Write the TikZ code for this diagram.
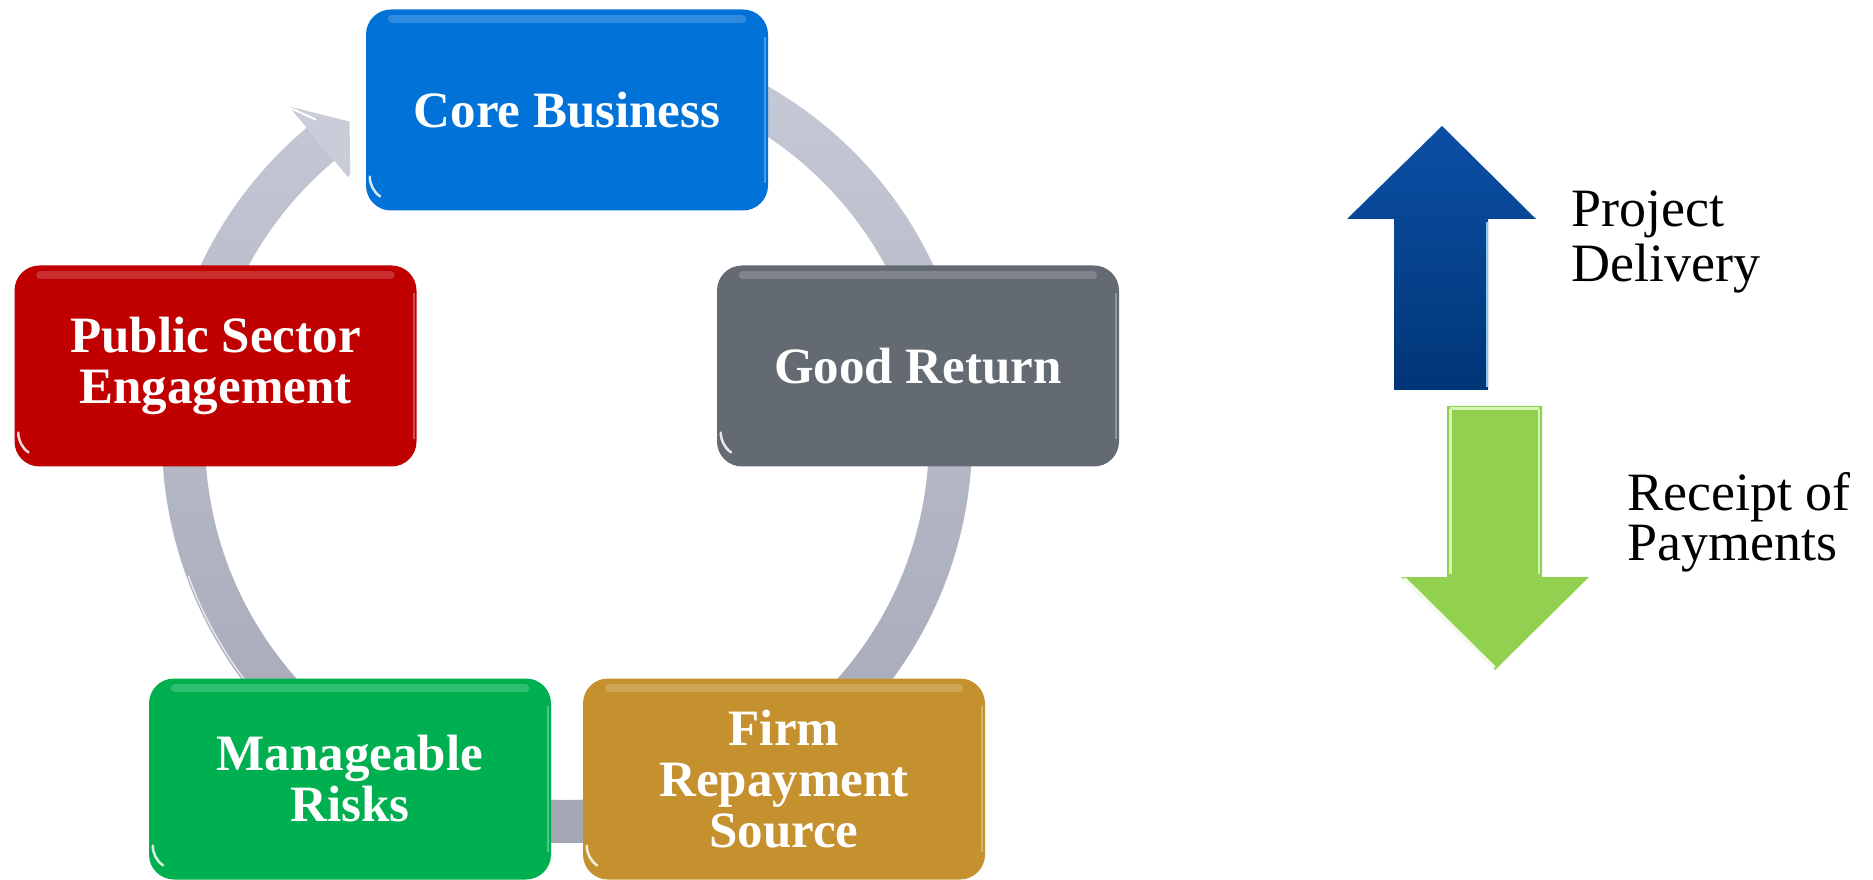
\documentclass[tikz,border=0pt]{standalone}
\usepackage{fontspec}
\setmainfont{Liberation Serif}
\usetikzlibrary{calc}
\definecolor{ringtop}{HTML}{C9CDDA}
\definecolor{ringbot}{HTML}{A0A4B3}
\definecolor{headgray}{HTML}{CACDD9}
\definecolor{coreblue}{HTML}{0072D8}
\definecolor{goodgray}{HTML}{636A71}
\definecolor{pubred}{HTML}{C00000}
\definecolor{mgreen}{HTML}{00B050}
\definecolor{firmgold}{HTML}{C4912E}
\definecolor{blueTop}{HTML}{0B4FA5}
\definecolor{blueBot}{HTML}{013677}
\definecolor{blueHi}{HTML}{8CC4F0}
\definecolor{lgreen}{HTML}{92D050}
\definecolor{lgreenHi}{HTML}{D6F3B4}
\begin{document}
\begin{tikzpicture}[x=1pt,y=1pt,
  box/.style={rounded corners=25pt, minimum width=402pt, minimum height=201pt,
    inner sep=0pt, text=white, align=center,
    font=\fontsize{51}{51}\selectfont\bfseries},
  lbl/.style={anchor=base west, align=left, inner sep=0pt, text=black},
  gloss/.style={white, opacity=.18, line width=8pt, line cap=round},
  gleam/.style={white, opacity=.85, line width=2.5pt, line cap=round}
]
\useasboundingbox (0,0) rectangle (1873,879);
\coordinate (c) at (567,441);
% cycle ring
\shade[top color=ringtop, bottom color=ringbot]
  ($(c)+(110:405)$) arc[start angle=110, end angle=-230, radius=405]
  -- ($(c)+(-230:362)$) arc[start angle=-230, end angle=110, radius=362] -- cycle;
\draw[white, opacity=.7, line width=1.5pt] ($(c)+(200:403)$) arc[start angle=200, end angle=235, radius=403];
% ring arrow head
\fill[headgray] ($(c)+(130:433)$) -- ($(c)+(124.5:384)$) -- ($(c)+(130:337)$) -- cycle;
\draw[white, line width=2pt, line cap=round] ($(c)+(130:431)$) -- ($(c)+(128.3:406)$);
\draw[white, line width=2pt, line cap=round] ($(c)+(130:339)$) -- ($(c)+(125.5:352)$);
% boxes
\node[box, fill=coreblue] (core) at (567,769) {Core Business};
\node[box, fill=goodgray] (good) at (918,513) {Good Return};
\node[box, fill=pubred] (pub) at (215.5,513) {Public Sector\\Engagement};
\node[box, fill=mgreen] (risk) at (350,100) {Manageable\\Risks};
\node[box, fill=firmgold] (firm) at (784,100) {Firm\\Repayment\\Source};
\foreach \n in {core,good,pub,risk,firm}{
  \draw[gloss] ([xshift=26pt,yshift=-10pt]\n.north west) -- ([xshift=-26pt,yshift=-10pt]\n.north east);
  \draw[gleam] ([xshift=4pt,yshift=34pt]\n.south west) arc[start angle=180, end angle=235, radius=24pt];
  \draw[white, opacity=.3, line width=2pt] ([xshift=-3pt,yshift=-28pt]\n.north east) -- ([xshift=-3pt,yshift=28pt]\n.south east);
}
% blue up arrow
\shade[top color=blueTop, bottom color=blueBot]
  (1442,753) -- (1536,660) -- (1488,660) -- (1488,489) -- (1394,489) -- (1394,660) -- (1347,660) -- cycle;
\draw[blueHi, line width=2.5pt] (1487,657) -- (1487,492);
% green down arrow
\fill[lgreen] (1447,473) -- (1542,473) -- (1542,302) -- (1589,302) -- (1495,209) -- (1401,302) -- (1447,302) -- cycle;
\draw[lgreenHi, line width=3pt] (1450,470) -- (1539,470);
\draw[lgreenHi, line width=3pt] (1450,470) -- (1450,305);
\draw[white, opacity=.9, line width=3pt, line cap=round] (1405,300) -- (1494,212);
\draw[lgreenHi, line width=2pt] (1539,470) -- (1539,305);
% labels (anchor is the baseline of the last line)
\node[lbl, font=\fontsize{54}{55}\selectfont] (pd) at (1571,597) {Project\\Delivery};
\node[lbl, font=\fontsize{54}{50}\selectfont] (rp) at (1627,319) {Receipt of\\Payments};
\end{tikzpicture}
\end{document}
